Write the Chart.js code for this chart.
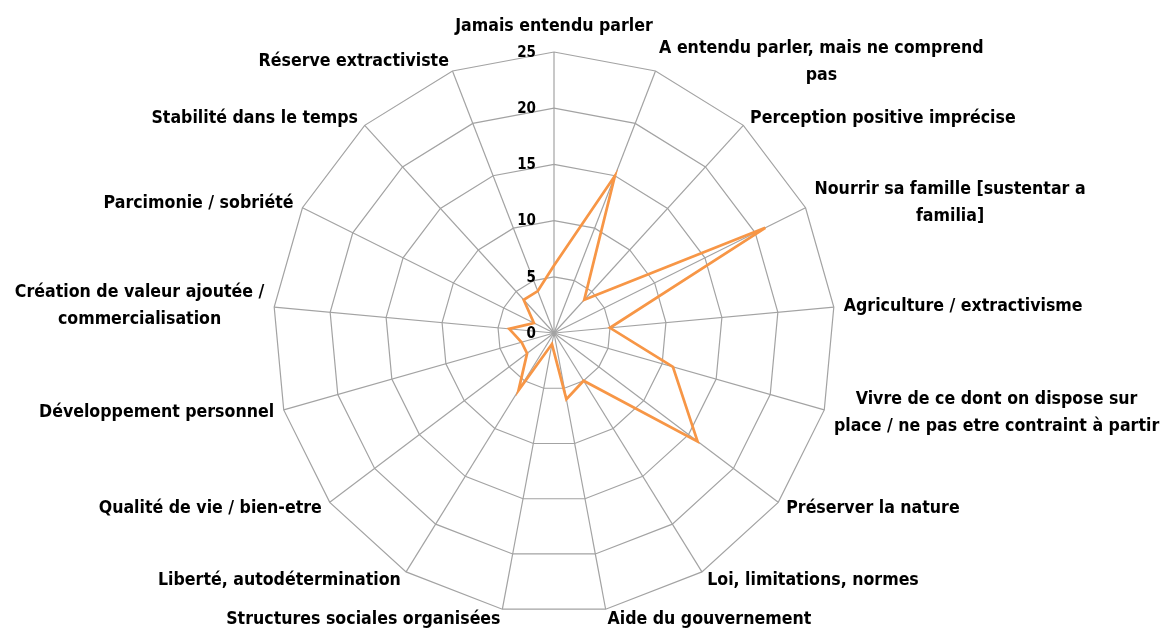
<!DOCTYPE html>
<html>
<head>
<meta charset="utf-8">
<script src="https://cdn.jsdelivr.net/npm/chart.js@4.4.1/dist/chart.umd.min.js"></script>
<style>
  html, body { margin: 0; padding: 0; background: #fff; }
  #zone { width: 1163px; height: 630px; }
</style>
</head>
<body>
<div id="zone"><canvas id="graficoRadar"></canvas></div>
<script>
var colorNaranja = "#f79646";
var colorRejilla = "#a3a3a3";
var fuente = "'DejaVu Sans Condensed', 'Liberation Sans Narrow', 'Liberation Sans', sans-serif";

var categorias = [
    ['Jamais entendu parler'],
    ['A entendu parler, mais ne comprend', 'pas'],
    ['Perception positive imprécise'],
    ['Nourrir sa famille [sustentar a', 'familia]'],
    ['Agriculture / extractivisme'],
    ['Vivre de ce dont on dispose sur', 'place / ne pas etre contraint à partir'],
    ['Préserver la nature'],
    ['Loi, limitations, normes'],
    ['Aide du gouvernement'],
    ['Structures sociales organisées'],
    ['Liberté, autodétermination'],
    ['Qualité de vie / bien-etre'],
    ['Développement personnel'],
    ['Création de valeur ajoutée /', 'commercialisation'],
    ['Parcimonie / sobriété'],
    ['Stabilité dans le temps'],
    ['Réserve extractiviste']
];

var respuestas = [6, 15, 4, 21, 5, 11, 16, 5, 6, 1, 6, 3, 3, 4, 2, 4, 4];

var marcas = [0, 5, 10, 15, 20, 25];

// etiquetas a la manera de Excel: bloque alineado al vertice, lineas centradas
var etiquetasExcel = {
    id: 'etiquetasExcel',
    afterDraw: function (chart) {
        var escala = chart.scales.r;
        var ctx = chart.ctx;
        var tam = 17.6;
        var alto = 27;
        ctx.save();
        ctx.fillStyle = '#000';
        ctx.font = 'bold ' + tam + 'px ' + fuente;
        ctx.textBaseline = 'middle';
        categorias.forEach(function (lineas, i) {
            var ang = escala.getIndexAngle(i);
            var s = Math.sin(ang);
            var extra = Math.abs(s) < 0.01 ? 26 : 10;
            var p = escala.getPointPosition(i, escala.drawingArea + extra);
            var ancho = 0;
            lineas.forEach(function (l) { ancho = Math.max(ancho, ctx.measureText(l).width); });
            var izq;
            if (Math.abs(s) < 0.01) izq = p.x - ancho / 2;
            else if (s > 0) izq = p.x;
            else izq = p.x - ancho;
            var y0 = p.y - (lineas.length - 1) * alto / 2;
            ctx.textAlign = 'center';
            lineas.forEach(function (l, k) {
                ctx.fillText(l, izq + ancho / 2, y0 + k * alto);
            });
        });
        // valores del eje
        ctx.font = 'bold 15px ' + fuente;
        ctx.textAlign = 'right';
        marcas.forEach(function (v) {
            var y = escala.yCenter - escala.getDistanceFromCenterForValue(v);
            ctx.fillText(String(v), escala.xCenter - 18, y + 1);
        });
        ctx.restore();
    }
};

var configuracion = {
    type: 'radar',
    data: {
        labels: categorias,
        datasets: [{
            label: 'Réponses',
            data: respuestas,
            borderColor: colorNaranja,
            backgroundColor: 'transparent',
            borderWidth: 2.75,
            pointRadius: 0,
            fill: false,
            tension: 0
        }]
    },
    options: {
        responsive: true,
        maintainAspectRatio: false,
        animation: false,
        layout: { padding: { top: 52, bottom: 16, left: 0, right: 55 } },
        plugins: {
            legend: { display: false },
            tooltip: { enabled: false }
        },
        scales: {
            r: {
                min: 0,
                max: 25,
                ticks: { stepSize: 5, display: false },
                grid: { color: colorRejilla, lineWidth: 1.2 },
                angleLines: { color: colorRejilla, lineWidth: 1.2 },
                pointLabels: { display: false }
            }
        }
    },
    plugins: [etiquetasExcel]
};

var grafico = new Chart(document.getElementById('graficoRadar'), configuracion);
</script>
</body>
</html>
